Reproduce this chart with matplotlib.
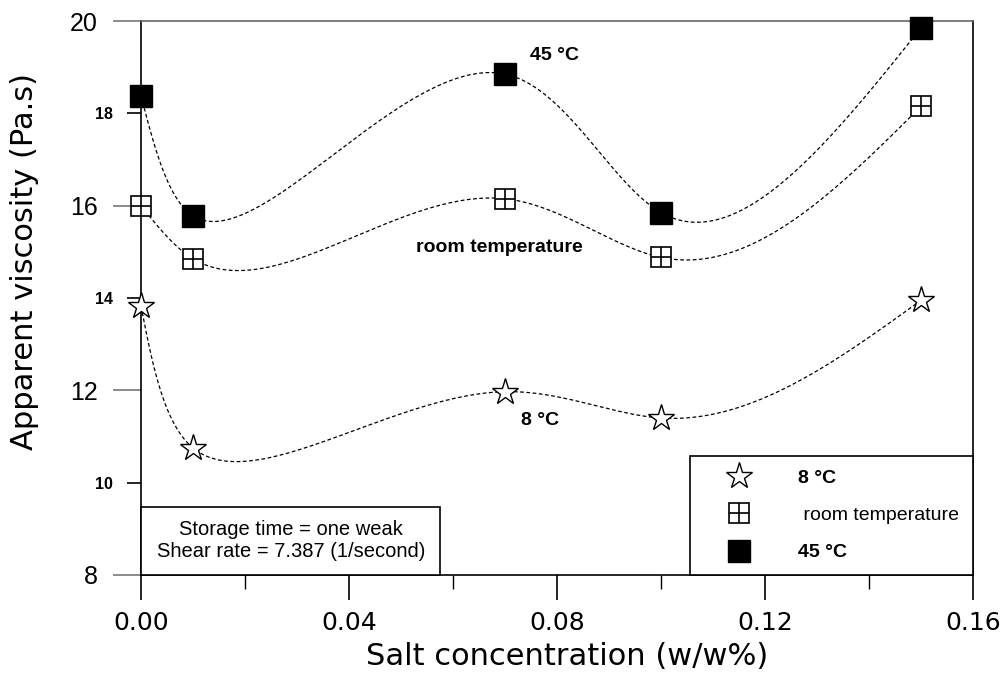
import matplotlib.pyplot as plt
from matplotlib.patches import Rectangle
from matplotlib.ticker import MultipleLocator
import numpy as np

# salt concentration (w/w%)
salt = [0.0, 0.01, 0.07, 0.10, 0.15]

# apparent viscosity (Pa.s)
visc_8c = [13.82, 10.75, 11.97, 11.40, 13.95]
visc_room = [16.00, 14.85, 16.15, 14.88, 18.15]
visc_45c = [18.38, 15.78, 18.85, 15.85, 19.85]

x_ticks_major = [0.00, 0.04, 0.08, 0.12, 0.16]
y_ticks_major = [8, 12, 16, 20]
y_ticks_minor = [10, 14, 18]

plt.rcParams["font.family"] = ["Liberation Sans", "DejaVu Sans"]
WIDE = ["DejaVu Sans"]


def _natural(t, v, ts):
    k = len(t)
    h = np.diff(t)
    A = np.zeros((k, k))
    r = np.zeros(k)
    A[0, 0] = A[-1, -1] = 1.0
    for i in range(1, k - 1):
        A[i, i - 1] = h[i - 1]
        A[i, i] = 2 * (h[i - 1] + h[i])
        A[i, i + 1] = h[i]
        r[i] = 6 * ((v[i + 1] - v[i]) / h[i] - (v[i] - v[i - 1]) / h[i - 1])
    m = np.linalg.solve(A, r)
    idx = np.clip(np.searchsorted(t, ts) - 1, 0, k - 2)
    t0, t1 = t[idx], t[idx + 1]
    hh = t1 - t0
    a = (t1 - ts) / hh
    b = (ts - t0) / hh
    return (a * v[idx] + b * v[idx + 1]
            + ((a ** 3 - a) * m[idx] + (b ** 3 - b) * m[idx + 1]) * hh ** 2 / 6)


def smooth_curve(x, y, sx=5200.0, sy=46.2, n=400):
    """parametric spline through the points, chord length in screen units"""
    x = np.asarray(x, float)
    y = np.asarray(y, float)
    d = np.hypot(np.diff(x) * sx, np.diff(y) * sy)
    t = np.concatenate([[0], np.cumsum(d)])
    ts = np.linspace(0, t[-1], n)
    return _natural(t, x, ts), _natural(t, y, ts)


fig = plt.figure(figsize=(10.06, 6.78), dpi=100)
ax = fig.add_axes([0.1402, 0.152, 0.827, 0.817])

line_kw = dict(color="black", linestyle=(0, (3, 2)), linewidth=0.9, zorder=2)
for vals in (visc_8c, visc_room, visc_45c):
    xs, ys = smooth_curve(salt, vals)
    ax.plot(xs, ys, **line_kw)

star_kw = dict(linestyle="none", marker="*", markersize=20,
               markerfacecolor="white", markeredgecolor="black",
               markeredgewidth=1.0)
box_kw = dict(linestyle="none", marker="s", markersize=15,
              markerfacecolor="white", markeredgecolor="black",
              markeredgewidth=1.2)
plus_kw = dict(linestyle="none", marker="+", markersize=15,
               markeredgecolor="black", markeredgewidth=1.2)
fill_kw = dict(linestyle="none", marker="s", markersize=15.5, color="black")

ax.plot(salt, visc_8c, zorder=3, clip_on=False, **star_kw)
ax.plot(salt, visc_room, zorder=3, clip_on=False, **box_kw)
ax.plot(salt, visc_room, zorder=4, clip_on=False, **plus_kw)
ax.plot(salt, visc_45c, zorder=3, clip_on=False, **fill_kw)

ax.set_xlim(0, 0.16)
ax.set_ylim(8, 20)
ax.set_xticks(x_ticks_major)
ax.set_xticklabels(["%.2f" % v for v in x_ticks_major], family=WIDE)
ax.xaxis.set_minor_locator(MultipleLocator(0.02))
ax.set_yticks(y_ticks_major)
ax.set_yticks(y_ticks_minor, minor=True)
ax.set_yticklabels([str(v) for v in y_ticks_minor], minor=True)

ax.tick_params(axis="x", which="major", direction="out", length=18, width=1.2,
               labelsize=18, pad=8)
ax.tick_params(axis="x", which="minor", direction="out", length=10, width=1.0)
ax.tick_params(axis="y", which="major", direction="out", length=20, width=1.2,
               labelsize=18, pad=11, color="#777777")
ax.tick_params(axis="y", which="minor", direction="out", length=10, width=1.2,
               labelsize=11.5, pad=10)
for lbl in ax.get_yticklabels(minor=True):
    lbl.set_fontweight("bold")
for sp in ax.spines.values():
    sp.set_linewidth(1.2)
ax.spines["top"].set_color("#666666")

ax.set_xlabel("Salt concentration (w/w%)", fontsize=22, family=WIDE)
ax.xaxis.set_label_coords(0.512, -0.1215)
ax.set_ylabel("Apparent viscosity (Pa.s)", fontsize=22, family=WIDE)
ax.yaxis.set_label_coords(-0.1226, 0.565)

ax.text(0.0795, 19.26, "45 °C", fontsize=14, fontweight="bold",
        ha="center", va="center")
ax.text(0.069, 15.09, "room temperature", fontsize=14, fontweight="bold",
        ha="center", va="center")
ax.text(0.0767, 11.34, "8 °C", fontsize=14, fontweight="bold",
        ha="center", va="center")

# info box, bottom left
ax.add_patch(Rectangle((0, 8), 0.0575, 1.48, facecolor="white",
                       edgecolor="black", linewidth=1.2, zorder=5,
                       clip_on=False))
ax.text(0.0288, 8.74, "Storage time = one weak\nShear rate = 7.387 (1/second)",
        fontsize=14.5, ha="center", va="center", linespacing=1.2, zorder=6)

# legend, bottom right
h8, = ax.plot([], [], **star_kw)
hr_box, = ax.plot([], [], **box_kw)
hr_plus, = ax.plot([], [], **plus_kw)
h45, = ax.plot([], [], **fill_kw)
leg = ax.legend([h8, (hr_box, hr_plus), h45],
                ["8 °C", " room temperature", "45 °C"],
                loc="lower right", borderaxespad=0, fontsize=14,
                frameon=True, fancybox=False, edgecolor="black",
                framealpha=1, handlelength=3.7, handletextpad=1.2,
                labelspacing=1.0, borderpad=0.7)
leg.get_frame().set_linewidth(1.2)
leg.set_zorder(6)
texts = leg.get_texts()
texts[0].set_fontweight("bold")
texts[2].set_fontweight("bold")

fig.savefig("out.png", dpi=100)
